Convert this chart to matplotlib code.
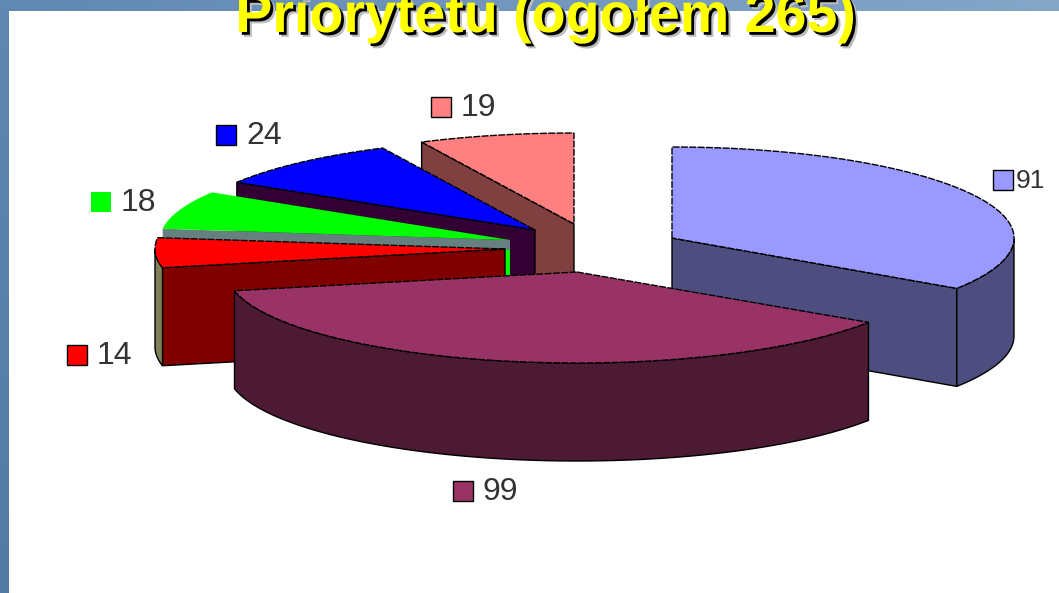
import numpy as np
import matplotlib
matplotlib.use("Agg")
import matplotlib.pyplot as plt
import matplotlib.patheffects as pe
from matplotlib.patches import Polygon, Rectangle

#slice values, clockwise from 12 o'clock
values = [91, 99, 14, 18, 24, 19]
title = "Priorytetu (ogołem 265)"

#colours for each slice
topColors = ["#9999FF", "#993366", "#FF0000", "#00FF00", "#0000FF", "#FF8080"]
faceColors = ["#4D4D80", "#4D1A33", "#800000", "#668080", "#330033", "#804040"]
arcColors = ["#4D4D80", "#4D1A33", "#80805A", "#668080", "#330033", "#804040"]
edgeColors = ["k", "k", "k", "none", "k", "k"]

#layout in pixels: where each exploded slice has its tip
tipX = [672, 577, 505, 510, 535, 574]
tipY = [238, 272, 249, 240, 230, 224]
radiusX = [342, 350, 350, 350, 350, 350]
radiusY = 91
depth = 98

#legend square corner for each slice, and the font size of its label
keyX = [993, 453, 67, 91, 216, 431]
keyY = [170, 481, 345, 192, 125, 97]
labelSizes = [19, 23, 23, 23, 23, 23]

drawOrder = [5, 4, 3, 2, 0, 1]
broken = (0, (5, 1))

plt.rcParams['font.family'] = ['Liberation Sans', 'DejaVu Sans']

fig = plt.figure(figsize=(10.59, 5.93), dpi=100)
ax = fig.add_axes([0, 0, 1, 1])
ax.axis("off")

#blue frame, lighter to the right and darker towards the bottom left
xx, yy = np.meshgrid(np.linspace(0, 1, 64), np.linspace(0, 1, 64))
left = np.array([0x60, 0x88, 0xB2])
right = np.array([0x86, 0xA6, 0xC8])
frame = left + (right - left)*xx[..., None] - 14*yy[..., None]
ax.imshow(frame/255, extent=(0, 1059, 593, 0), aspect="auto", zorder=0)
ax.set_xlim(0, 1059)
ax.set_ylim(593, 0)
ax.add_patch(Rectangle((9, 11), 1050, 582, fc="white", ec="none", zorder=1))

#angles of the slices come from the values
edges = np.cumsum([0] + values)/sum(values)*2*np.pi

def arcPoints(i, t):
    return tipX[i] + radiusX[i]*np.sin(t), tipY[i] - radiusY*np.cos(t)

def drawFace(i, t, z):
    #flat cut face between the tip and the arc end at angle t
    x, y = arcPoints(i, t)
    quadX = [tipX[i], x, x, tipX[i]]
    quadY = [tipY[i], y, y + depth, tipY[i] + depth]
    ax.add_patch(Polygon(np.c_[quadX, quadY], fc=faceColors[i], ec=edgeColors[i], lw=1, zorder=z))

z = 2
for i in drawOrder:
    t0, t1 = edges[i], edges[i + 1]
    t = np.linspace(t0, t1, 120)
    xs, ys = arcPoints(i, t)
    #cut faces only show when they turn towards the viewer
    if np.sin(t0) < 0:
        drawFace(i, t0, z)
    if np.sin(t1) > 1e-6:
        drawFace(i, t1, z)
    #outer wall is only seen on the front half of the ellipse
    front = np.cos(t) < 0
    if front.any():
        wallX = np.r_[xs[front], xs[front][::-1]]
        wallY = np.r_[ys[front], ys[front][::-1] + depth]
        ax.add_patch(Polygon(np.c_[wallX, wallY], fc=arcColors[i], ec=edgeColors[i], lw=1, zorder=z))
    #top of the slice
    ax.add_patch(Polygon(np.c_[np.r_[tipX[i], xs], np.r_[tipY[i], ys]],
                         fc=topColors[i], ec=edgeColors[i], lw=1, ls=broken, zorder=z))
    z += 1
    #sliver of green on the inner end of the green slice
    if i == 3:
        ax.add_patch(Rectangle((tipX[i] - 5, tipY[i] + 10), 5, 35, fc=topColors[i], ec="none", zorder=z))
        z += 1

#value labels with their colour squares
for i, v in enumerate(values):
    ax.add_patch(Rectangle((keyX[i], keyY[i]), 20, 20, fc=topColors[i], ec=edgeColors[i], lw=1, zorder=20))
    ax.text(keyX[i] + 30 - (7 if i == 0 else 0), keyY[i] + 11, str(v), fontsize=labelSizes[i],
            color="#333333", va="center", ha="left", zorder=20)

#title is cut off by the top of the picture
ax.text(545, 32, title, fontsize=40, fontweight="bold", color="#FFFF00",
        ha="center", va="baseline", zorder=30,
        path_effects=[pe.SimplePatchShadow(offset=(3.5, -3.5), shadow_rgbFace="#BDBDBD", alpha=1),
                      pe.SimplePatchShadow(offset=(2, -2), shadow_rgbFace="k", alpha=1),
                      pe.Normal()])

fig.savefig("out.png", dpi=100)
